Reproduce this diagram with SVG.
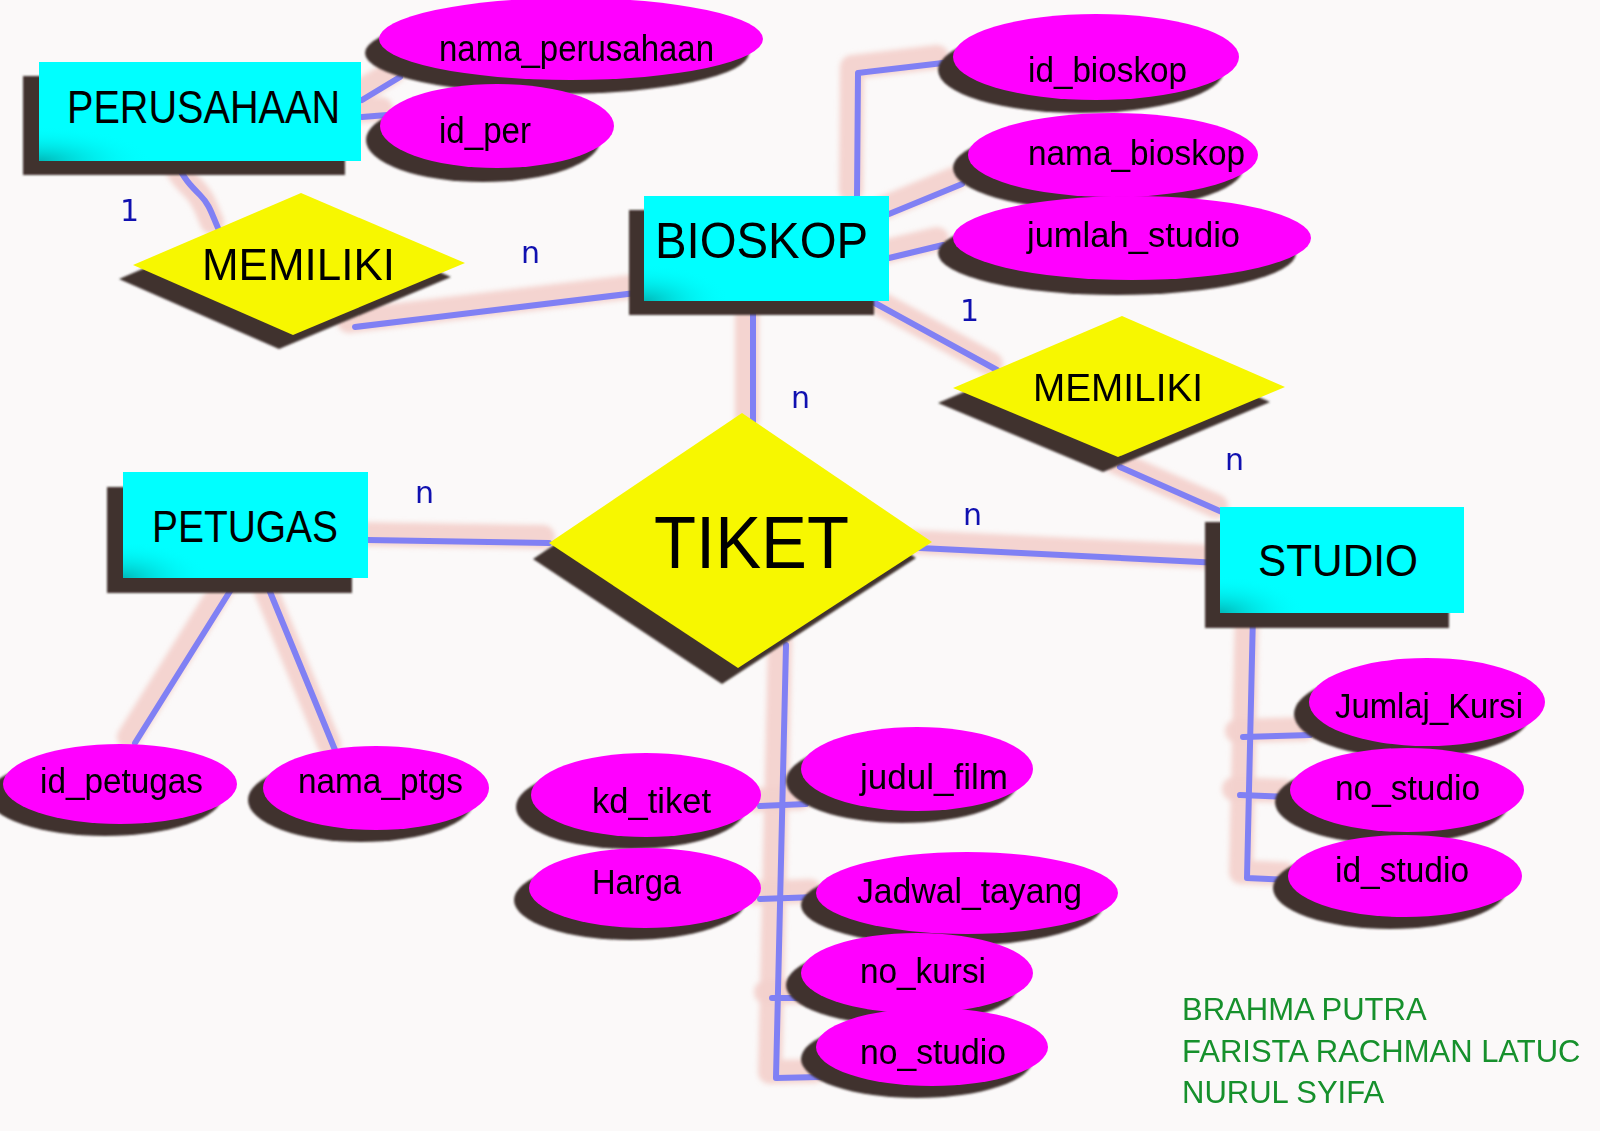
<svg xmlns="http://www.w3.org/2000/svg" width="1600" height="1131" viewBox="0 0 1600 1131">
<defs>
<style>
.ent{fill:#00ffff}
.rel{fill:#f7f700}
.att{fill:#ff00ff}
.sh{fill:#3f332f}
.t{font-family:"Liberation Sans",Arial,sans-serif;fill:#000}
.card{font-family:"DejaVu Sans",sans-serif;font-size:30px;fill:#1010b0}
.glow{fill:none;stroke:#f3d2cd;stroke-width:24;stroke-linecap:round;stroke-linejoin:round;opacity:0.95}
.ln{fill:none;stroke:#8080f4;stroke-width:6;stroke-linecap:round;stroke-linejoin:round}
.au{font-family:"Liberation Sans",Arial,sans-serif;font-size:31px;fill:#16902c}
</style>
<filter id="blur" x="-20%" y="-20%" width="140%" height="140%"><feGaussianBlur stdDeviation="2.5"/></filter>
<filter id="sb" x="-10%" y="-10%" width="120%" height="120%"><feGaussianBlur stdDeviation="1"/></filter>
<radialGradient id="cg" cx="0" cy="1" r="0.35"><stop offset="0" stop-color="#00b8b8"/><stop offset="1" stop-color="#00ffff" stop-opacity="0"/></radialGradient>
</defs>
<rect width="1600" height="1131" fill="#fbf9f9"/>

<g id="connectors">
 <g filter="url(#blur)" transform="translate(-6,-6)">
  <path class="glow" d="M175,161 C185,180 190,185 200,195 S212,215 218,228"/>
  <path class="glow" d="M362,100 L400,77"/>
  <path class="glow" d="M362,117 L387,115"/>
  <path class="glow" d="M355,327 L644,292"/>
  <path class="glow" d="M857,196 L858,73 L943,63"/>
  <path class="glow" d="M889,214 L962,184"/>
  <path class="glow" d="M889,258 L943,245"/>
  <path class="glow" d="M873,302 L997,370"/>
  <path class="glow" d="M753,302 L753,425"/>
  <path class="glow" d="M1120,467 L1222,512"/>
  <path class="glow" d="M920,548 L1220,563"/>
  <path class="glow" d="M368,540 L549,543"/>
  <path class="glow" d="M237,580 L135,743"/>
  <path class="glow" d="M268,587 L335,750"/>
  <path class="glow" d="M786,645 L776,1078 L820,1077"/>
  <path class="glow" d="M760,806 L806,804"/>
  <path class="glow" d="M760,899 L816,897"/>
  <path class="glow" d="M772,998 L806,998"/>
  <path class="glow" d="M1253,613 L1247,878 L1290,880"/>
  <path class="glow" d="M1243,737 L1310,735"/>
  <path class="glow" d="M1240,795 L1290,797"/>
 </g>
 <path class="ln" d="M175,161 C185,180 190,185 200,195 S212,215 218,228"/>
 <path class="ln" d="M362,100 L400,77"/>
 <path class="ln" d="M362,117 L387,115"/>
 <path class="ln" d="M355,327 L644,292"/>
 <path class="ln" d="M857,196 L858,73 L943,63"/>
 <path class="ln" d="M889,214 L962,184"/>
 <path class="ln" d="M889,258 L943,245"/>
 <path class="ln" d="M873,302 L997,370"/>
 <path class="ln" d="M753,302 L753,425"/>
 <path class="ln" d="M1120,467 L1222,512"/>
 <path class="ln" d="M920,548 L1220,563"/>
 <path class="ln" d="M368,540 L549,543"/>
 <path class="ln" d="M237,580 L135,743"/>
 <path class="ln" d="M268,587 L335,750"/>
 <path class="ln" d="M786,645 L776,1078 L820,1077"/>
 <path class="ln" d="M760,806 L806,804"/>
 <path class="ln" d="M760,899 L816,897"/>
 <path class="ln" d="M772,998 L806,998"/>
 <path class="ln" d="M1253,613 L1247,878 L1290,880"/>
 <path class="ln" d="M1243,737 L1310,735"/>
 <path class="ln" d="M1240,795 L1290,797"/>
</g>

<g id="perusahaan">
 <rect class="sh" x="23" y="76" width="322" height="99" filter="url(#sb)"/>
 <rect class="ent" x="39" y="62" width="322" height="99"/>
 <rect fill="url(#cg)" x="39" y="62" width="322" height="99"/>
 <text class="t" x="67" y="123" font-size="46" textLength="273" lengthAdjust="spacingAndGlyphs">PERUSAHAAN</text>
</g>
<g id="nama_perusahaan">
 <ellipse class="sh" cx="557" cy="53" rx="192" ry="41" filter="url(#sb)"/>
 <ellipse class="att" cx="571" cy="39" rx="192" ry="41"/>
 <text class="t" x="439" y="61" font-size="36" textLength="275" lengthAdjust="spacingAndGlyphs">nama_perusahaan</text>
</g>
<g id="id_per">
 <ellipse class="sh" cx="483" cy="140" rx="117" ry="42" filter="url(#sb)"/>
 <ellipse class="att" cx="497" cy="126" rx="117" ry="42"/>
 <text class="t" x="439" y="143" font-size="36" textLength="92" lengthAdjust="spacingAndGlyphs">id_per</text>
</g>
<g id="memiliki1">
 <polygon class="sh" points="287,207 451,277 279,349 119,279" filter="url(#sb)"/>
 <polygon class="rel" points="301,193 465,263 293,335 133,265"/>
 <text class="t" x="202" y="280" font-size="44" textLength="193" lengthAdjust="spacingAndGlyphs">MEMILIKI</text>
</g>
<g id="bioskop">
 <rect class="sh" x="629" y="210" width="245" height="105" filter="url(#sb)"/>
 <rect class="ent" x="644" y="196" width="245" height="105"/>
 <rect fill="url(#cg)" x="644" y="196" width="245" height="105"/>
 <text class="t" x="655" y="258" font-size="50" textLength="213" lengthAdjust="spacingAndGlyphs">BIOSKOP</text>
</g>
<g id="id_bioskop">
 <ellipse class="sh" cx="1081" cy="70" rx="143" ry="43" filter="url(#sb)"/>
 <ellipse class="att" cx="1096" cy="57" rx="143" ry="43"/>
 <text class="t" x="1028" y="82" font-size="35" textLength="159" lengthAdjust="spacingAndGlyphs">id_bioskop</text>
</g>
<g id="nama_bioskop">
 <ellipse class="sh" cx="1098" cy="168" rx="145" ry="42" filter="url(#sb)"/>
 <ellipse class="att" cx="1113" cy="155" rx="145" ry="42"/>
 <text class="t" x="1028" y="165" font-size="35" textLength="217" lengthAdjust="spacingAndGlyphs">nama_bioskop</text>
</g>
<g id="jumlah_studio">
 <ellipse class="sh" cx="1117" cy="253" rx="179" ry="42" filter="url(#sb)"/>
 <ellipse class="att" cx="1132" cy="238" rx="179" ry="42"/>
 <text class="t" x="1027" y="247" font-size="35" textLength="213" lengthAdjust="spacingAndGlyphs">jumlah_studio</text>
</g>
<g id="memiliki2">
 <polygon class="sh" points="1107,331 1270,402 1103,472 938,403" filter="url(#sb)"/>
 <polygon class="rel" points="1122,316 1285,387 1118,457 953,388"/>
 <text class="t" x="1033" y="401" font-size="39" textLength="170" lengthAdjust="spacingAndGlyphs">MEMILIKI</text>
</g>
<g id="tiket">
 <polygon class="sh" points="726,429 916,558 722,684 533,559" filter="url(#sb)"/>
 <polygon class="rel" points="742,413 932,542 738,668 549,543"/>
 <text class="t" x="654" y="568" font-size="74" textLength="195" lengthAdjust="spacingAndGlyphs">TIKET</text>
</g>
<g id="petugas">
 <rect class="sh" x="107" y="487" width="245" height="106" filter="url(#sb)"/>
 <rect class="ent" x="123" y="472" width="245" height="106"/>
 <rect fill="url(#cg)" x="123" y="472" width="245" height="106"/>
 <text class="t" x="152" y="542" font-size="44" textLength="186" lengthAdjust="spacingAndGlyphs">PETUGAS</text>
</g>
<g id="studio">
 <rect class="sh" x="1205" y="522" width="244" height="106" filter="url(#sb)"/>
 <rect class="ent" x="1220" y="507" width="244" height="106"/>
 <rect fill="url(#cg)" x="1220" y="507" width="244" height="106"/>
 <text class="t" x="1258" y="576" font-size="44" textLength="160" lengthAdjust="spacingAndGlyphs">STUDIO</text>
</g>
<g id="id_petugas">
 <ellipse class="sh" cx="105" cy="796" rx="117" ry="40" filter="url(#sb)"/>
 <ellipse class="att" cx="120" cy="784" rx="117" ry="40"/>
 <text class="t" x="40" y="793" font-size="35" textLength="163" lengthAdjust="spacingAndGlyphs">id_petugas</text>
</g>
<g id="nama_ptgs">
 <ellipse class="sh" cx="361" cy="800" rx="113" ry="42" filter="url(#sb)"/>
 <ellipse class="att" cx="376" cy="788" rx="113" ry="42"/>
 <text class="t" x="298" y="793" font-size="35" textLength="165" lengthAdjust="spacingAndGlyphs">nama_ptgs</text>
</g>
<g id="kd_tiket">
 <ellipse class="sh" cx="631" cy="807" rx="115" ry="42" filter="url(#sb)"/>
 <ellipse class="att" cx="646" cy="795" rx="115" ry="42"/>
 <text class="t" x="592" y="813" font-size="35" textLength="119" lengthAdjust="spacingAndGlyphs">kd_tiket</text>
</g>
<g id="harga">
 <ellipse class="sh" cx="630" cy="900" rx="116" ry="40" filter="url(#sb)"/>
 <ellipse class="att" cx="645" cy="888" rx="116" ry="40"/>
 <text class="t" x="592" y="894" font-size="35" textLength="89" lengthAdjust="spacingAndGlyphs">Harga</text>
</g>
<g id="judul_film">
 <ellipse class="sh" cx="902" cy="781" rx="116" ry="42" filter="url(#sb)"/>
 <ellipse class="att" cx="917" cy="769" rx="116" ry="42"/>
 <text class="t" x="860" y="789" font-size="35" textLength="148" lengthAdjust="spacingAndGlyphs">judul_film</text>
</g>
<g id="jadwal_tayang">
 <ellipse class="sh" cx="952" cy="905" rx="151" ry="41" filter="url(#sb)"/>
 <ellipse class="att" cx="967" cy="893" rx="151" ry="41"/>
 <text class="t" x="857" y="903" font-size="35" textLength="225" lengthAdjust="spacingAndGlyphs">Jadwal_tayang</text>
</g>
<g id="no_kursi">
 <ellipse class="sh" cx="902" cy="985" rx="116" ry="40" filter="url(#sb)"/>
 <ellipse class="att" cx="917" cy="973" rx="116" ry="40"/>
 <text class="t" x="860" y="983" font-size="35" textLength="126" lengthAdjust="spacingAndGlyphs">no_kursi</text>
</g>
<g id="no_studio_tiket">
 <ellipse class="sh" cx="917" cy="1059" rx="116" ry="39" filter="url(#sb)"/>
 <ellipse class="att" cx="932" cy="1047" rx="116" ry="39"/>
 <text class="t" x="860" y="1064" font-size="35" textLength="146" lengthAdjust="spacingAndGlyphs">no_studio</text>
</g>
<g id="jumlaj_kursi">
 <ellipse class="sh" cx="1412" cy="714" rx="118" ry="44" filter="url(#sb)"/>
 <ellipse class="att" cx="1427" cy="702" rx="118" ry="44"/>
 <text class="t" x="1335" y="718" font-size="35" textLength="188" lengthAdjust="spacingAndGlyphs">Jumlaj_Kursi</text>
</g>
<g id="no_studio_studio">
 <ellipse class="sh" cx="1392" cy="802" rx="117" ry="42" filter="url(#sb)"/>
 <ellipse class="att" cx="1407" cy="790" rx="117" ry="42"/>
 <text class="t" x="1335" y="800" font-size="35" textLength="145" lengthAdjust="spacingAndGlyphs">no_studio</text>
</g>
<g id="id_studio">
 <ellipse class="sh" cx="1390" cy="888" rx="117" ry="41" filter="url(#sb)"/>
 <ellipse class="att" cx="1405" cy="876" rx="117" ry="41"/>
 <text class="t" x="1335" y="882" font-size="35" textLength="134" lengthAdjust="spacingAndGlyphs">id_studio</text>
</g>

<g id="cardinalities">
 <text class="card" x="120" y="221">1</text>
 <text class="card" x="521" y="263">n</text>
 <text class="card" x="960" y="321">1</text>
 <text class="card" x="791" y="408">n</text>
 <text class="card" x="415" y="503">n</text>
 <text class="card" x="963" y="525">n</text>
 <text class="card" x="1225" y="470">n</text>
</g>

<g id="authors">
 <text class="au" x="1182" y="1020">BRAHMA PUTRA</text>
 <text class="au" x="1182" y="1062">FARISTA RACHMAN LATUC</text>
 <text class="au" x="1182" y="1103">NURUL SYIFA</text>
</g>
</svg>
